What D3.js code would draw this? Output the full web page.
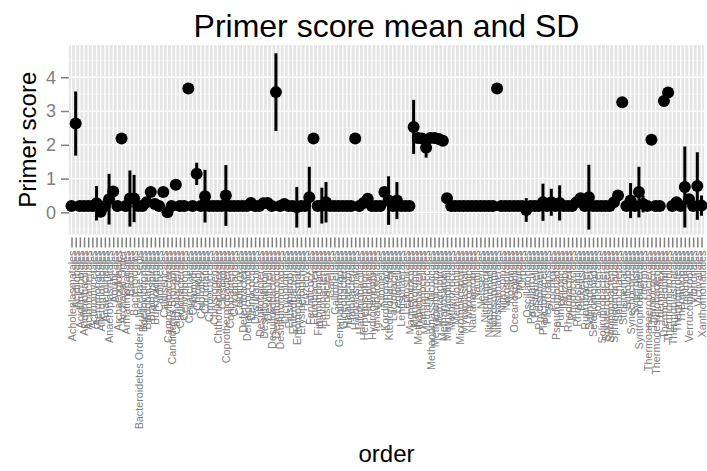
<!DOCTYPE html>
<html>
<head>
<meta charset="utf-8">
<script src="https://cdn.jsdelivr.net/npm/d3@7"></script>
<style>
  body { margin: 0; background: #fff; }
  text { font-family: "Liberation Sans", Arial, Helvetica, sans-serif; }
</style>
</head>
<body>
<div id="chart"></div>
<script>
// Orders (x categories), alphabetical as in the plot.
const orders = [
  "Acholeplasmatales", "Acidilobales", "Acidimicrobiales", "Acidithiobacillales", "Acidobacteriales",
  "Actinomycetales", "Aeromonadales", "Alteromonadales", "Anaerolineales", "Anaeroplasmatales",
  "Aquificales", "Archaeoglobales", "Archaeal Order", "Armatimonadales", "Bacillales",
  "Bacteroidales", "Bacteroidetes Order II. Incertae sedis", "Bdellovibrionales", "Bifidobacteriales", "Brachyspirales",
  "Burkholderiales", "Caldilineales", "Caldisericales", "Campylobacterales", "Candidatus Brocadiales",
  "Cardiobacteriales", "Caulobacterales", "Cellvibrionales", "Cenarchaeales", "Chlamydiales",
  "Chlorobiales", "Chloroflexales", "Chromatiales", "Chroococcales", "Chrysiogenales",
  "Chthoniobacterales", "Clostridiales", "Coprothermobacterales", "Coriobacteriales", "Cytophagales",
  "Caldithrixales", "Deferribacterales", "Dehalococcoidales", "Deinococcales", "Desulfarculales",
  "Desulfobacterales", "Desulfovibrionales", "Desulfurellales", "Desulfurobacteriales", "Desulfurococcales",
  "Desulfuromonadales", "Dictyoglomales", "Elusimicrobiales", "Enterobacteriales", "Entomoplasmatales",
  "Erysipelotrichales", "Euzebyales", "Fervidicoccales", "Fibrobacterales", "Fimbriimonadales",
  "Flavobacteriales", "Fusobacteriales", "Gaiellales", "Gallionellales", "Gemmatimonadales",
  "Gloeobacterales", "Halanaerobiales", "Halobacteriales", "Haloplasmatales", "Halothiobacillales",
  "Herpetosiphonales", "Holophagales", "Hydrogenophilales", "Ignavibacteriales", "Kiloniellales",
  "Kordiimonadales", "Ktedonobacterales", "Lactobacillales", "Legionellales", "Lentisphaerales",
  "Leptospirales", "Magnetococcales", "Mariprofundales", "Methanobacteriales", "Methanocellales",
  "Methanococcales", "Methanomassiliicoccales", "Methanomicrobiales", "Methanopyrales", "Methanosarcinales",
  "Methylacidiphilales", "Methylococcales", "Methylophilales", "Micromonosporales", "Mycoplasmatales",
  "Myxococcales", "Natranaerobiales", "Nautiliales", "Neisseriales", "Nitriliruptorales",
  "Nitrosomonadales", "Nitrosopumilales", "Nitrososphaerales", "Nitrospinales", "Nitrospirales",
  "Nostocales", "Oceanospirillales", "Opitutales", "Orbales", "Oscillatoriales",
  "Parvularculales", "Pasteurellales", "Phycisphaerales", "Planctomycetales", "Pleurocapsales",
  "Prochlorales", "Pseudomonadales", "Puniceicoccales", "Rhizobiales", "Rhodobacterales",
  "Rhodocyclales", "Rhodospirillales", "Rickettsiales", "Rubrobacterales", "Salinisphaerales",
  "Selenomonadales", "Solibacterales", "Solirubrobacterales", "Sphaerobacterales", "Sphingobacteriales",
  "Sphingomonadales", "Spirochaetales", "Stigonematales", "Sulfolobales", "Synechococcales",
  "Synergistales", "Syntrophobacterales", "Thermales", "Thermoanaerobacterales", "Thermococcales",
  "Thermodesulfobacteriales", "Thermoflexales", "Thermoleophilales", "Thermomicrobiales", "Thermoplasmatales",
  "Thermoproteales", "Thermotogales", "Thiotrichales", "Verrucomicrobiales", "Vibrionales",
  "Victivallales", "Xanthomonadales"
];

// Mean primer score per order.
const means = [
  0.19, 2.63, 0.19, 0.19, 0.19, 0.19, 0.27, 0.02, 0.19, 0.39,
  0.62, 0.19, 2.19, 0.19, 0.41, 0.41, 0.19, 0.19, 0.30, 0.60,
  0.25, 0.19, 0.60, 0.00, 0.19, 0.82, 0.19, 0.19, 3.67, 0.19,
  1.14, 0.19, 0.48, 0.19, 0.19, 0.19, 0.19, 0.50, 0.19, 0.19,
  0.19, 0.19, 0.19, 0.28, 0.19, 0.19, 0.27, 0.28, 0.19, 3.56,
  0.19, 0.25, 0.19, 0.19, 0.15, 0.19, 0.19, 0.45, 2.19, 0.19,
  0.20, 0.30, 0.19, 0.19, 0.19, 0.19, 0.19, 0.19, 2.19, 0.19,
  0.28, 0.40, 0.19, 0.19, 0.19, 0.60, 0.35, 0.19, 0.35, 0.19,
  0.19, 0.19, 2.53, 2.20, 2.19, 1.91, 2.20, 2.20, 2.17, 2.12,
  0.42, 0.19, 0.19, 0.19, 0.19, 0.19, 0.19, 0.19, 0.19, 0.19,
  0.19, 0.19, 3.67, 0.19, 0.19, 0.19, 0.19, 0.19, 0.19, 0.07,
  0.19, 0.19, 0.19, 0.30, 0.19, 0.30, 0.19, 0.28, 0.19, 0.19,
  0.19, 0.30, 0.42, 0.19, 0.45, 0.19, 0.19, 0.19, 0.19, 0.19,
  0.30, 0.50, 3.26, 0.19, 0.35, 0.19, 0.60, 0.25, 0.19, 2.15,
  0.19, 0.19, 3.30, 3.55, 0.19, 0.30, 0.19, 0.75, 0.39, 0.19,
  0.78, 0.20
];

// Standard deviation per order.
const sds = [
  0, 0.95, 0, 0, 0, 0, 0.51, 0.12, 0, 0.75,
  0, 0, 0, 0, 0.83, 0.70, 0, 0, 0, 0,
  0.15, 0, 0, 0.12, 0, 0, 0, 0, 0, 0,
  0.33, 0, 0.78, 0, 0, 0, 0, 0.90, 0, 0,
  0, 0, 0, 0, 0, 0, 0, 0, 0, 1.15,
  0, 0, 0, 0, 0.60, 0, 0, 0.90, 0, 0,
  0.53, 0.60, 0, 0, 0, 0, 0, 0, 0, 0,
  0, 0, 0, 0, 0, 0, 0.72, 0, 0.55, 0,
  0, 0, 0.80, 0, 0, 0.29, 0, 0, 0, 0.05,
  0, 0, 0, 0, 0, 0, 0, 0, 0, 0,
  0, 0, 0, 0, 0, 0, 0, 0, 0, 0.35,
  0, 0, 0, 0.55, 0, 0.40, 0, 0.52, 0, 0,
  0, 0, 0, 0, 0.96, 0, 0, 0, 0, 0,
  0, 0, 0, 0, 0.52, 0, 0.75, 0.25, 0, 0,
  0, 0, 0.08, 0.12, 0, 0.15, 0, 1.20, 0, 0,
  1.00, 0.30
];

const yTicks = [0, 1, 2, 3, 4];
const yMinor = [-0.5, 0.5, 1.5, 2.5, 3.5, 4.5];

const data = orders.map((o, i) => ({ order: o, mean: means[i], sd: sds[i] }));

const W = 707, H = 471;
const panel = { left: 69, right: 704, top: 45, bottom: 234.5 };

const svg = d3.select("#chart").append("svg")
    .attr("width", W)
    .attr("height", H);

const x = d3.scalePoint()
    .domain(orders)
    .range([panel.left, panel.right])
    .padding(0.6);

const y = d3.scaleLinear()
    .domain([-0.655, 4.955])
    .range([panel.bottom, panel.top]);

// Panel background
svg.append("rect")
    .attr("x", panel.left).attr("y", panel.top)
    .attr("width", panel.right - panel.left)
    .attr("height", panel.bottom - panel.top)
    .attr("fill", "#E5E5E5");

// Minor horizontal grid
svg.append("g").selectAll("line")
  .data(yMinor)
  .join("line")
    .attr("x1", panel.left).attr("x2", panel.right)
    .attr("y1", d => y(d)).attr("y2", d => y(d))
    .attr("stroke", "#F2F2F2").attr("stroke-width", 0.8);

// Major grid
svg.append("g").selectAll("line")
  .data(yTicks)
  .join("line")
    .attr("x1", panel.left).attr("x2", panel.right)
    .attr("y1", d => y(d)).attr("y2", d => y(d))
    .attr("stroke", "#fff").attr("stroke-width", 1.3);

svg.append("g").selectAll("line")
  .data(orders)
  .join("line")
    .attr("x1", d => x(d)).attr("x2", d => x(d))
    .attr("y1", panel.top).attr("y2", panel.bottom)
    .attr("stroke", "#fff").attr("stroke-width", 1.3);

// Error bars (mean +/- sd)
svg.append("g").selectAll("line")
  .data(data.filter(d => d.sd > 0))
  .join("line")
    .attr("x1", d => x(d.order)).attr("x2", d => x(d.order))
    .attr("y1", d => y(d.mean - d.sd)).attr("y2", d => y(d.mean + d.sd))
    .attr("stroke", "#000").attr("stroke-width", 3);

// Points
svg.append("g").selectAll("circle")
  .data(data)
  .join("circle")
    .attr("cx", d => x(d.order))
    .attr("cy", d => y(d.mean))
    .attr("r", 6)
    .attr("fill", "#000");

// Y axis
const yAxis = svg.append("g")
    .attr("transform", `translate(${panel.left},0)`)
    .call(d3.axisLeft(y).tickValues(yTicks).tickFormat(d3.format("d")).tickSize(8).tickPadding(5));
yAxis.select(".domain").remove();
yAxis.selectAll(".tick line").attr("stroke", "#7F7F7F").attr("stroke-width", 1.5);
yAxis.selectAll(".tick text")
    .attr("fill", "#7F7F7F")
    .style("font-size", "18px")
    .style("font-family", "'Liberation Sans', Arial, sans-serif");

// X axis
const xAxis = svg.append("g")
    .attr("transform", `translate(0,${panel.bottom})`)
    .call(d3.axisBottom(x).tickSize(13).tickPadding(4));
xAxis.select(".domain").remove();
xAxis.selectAll(".tick line").attr("stroke", "#7F7F7F").attr("stroke-width", 1.5)
    .attr("y1", 3);
xAxis.selectAll(".tick text")
    .attr("fill", "#7F7F7F")
    .attr("transform", "rotate(-90)")
    .attr("text-anchor", "end")
    .attr("x", -16)
    .attr("y", 0)
    .attr("dy", "0.35em")
    .style("font-size", "10.8px")
    .style("font-family", "'Liberation Sans', Arial, sans-serif");

// Titles
svg.append("text")
    .attr("x", (panel.left + panel.right) / 2)
    .attr("y", 37)
    .attr("text-anchor", "middle")
    .style("font-size", "32px")
    .text("Primer score mean and SD");

svg.append("text")
    .attr("transform", `translate(36,${(panel.top + panel.bottom) / 2}) rotate(-90)`)
    .attr("text-anchor", "middle")
    .style("font-size", "24px")
    .text("Primer score");

svg.append("text")
    .attr("x", (panel.left + panel.right) / 2)
    .attr("y", 462)
    .attr("text-anchor", "middle")
    .style("font-size", "24px")
    .text("order");
</script>
</body>
</html>
